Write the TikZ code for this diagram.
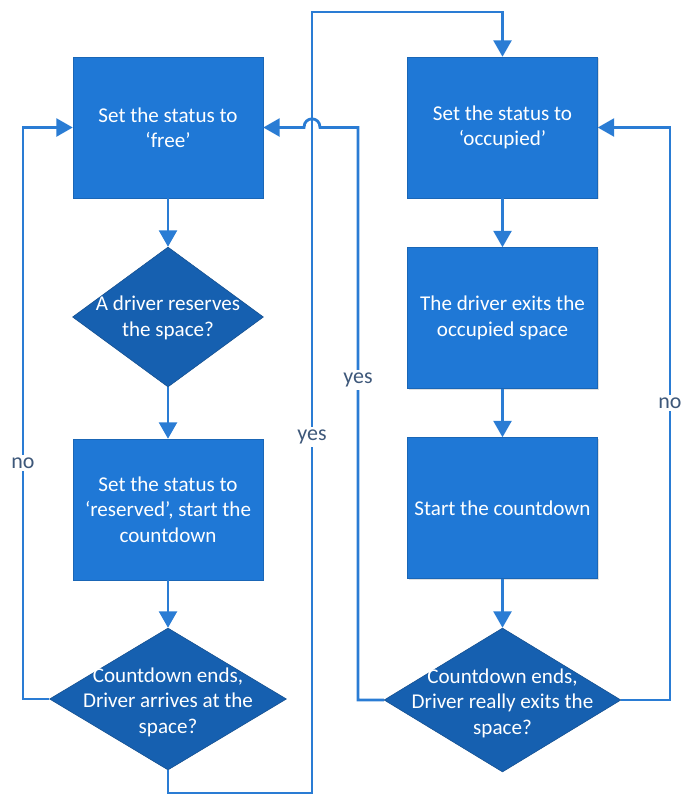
\documentclass[tikz,border=0pt]{standalone}
\usepackage{fontspec}
\setmainfont{Carlito}
\usetikzlibrary{shapes.geometric,arrows.meta,shadows}
\definecolor{boxblue}{RGB}{31,120,214}
\definecolor{diamondblue}{RGB}{22,96,176}
\definecolor{lineblue}{RGB}{42,124,212}
\definecolor{labelgray}{RGB}{62,88,122}
\begin{document}
\begin{tikzpicture}
[x=0.02cm,y=-0.02cm,
  boxdecorate/.style={shape=rectangle,fill=boxblue,draw=boxblue!85!black,line width=0.3pt,%
    minimum width=3.8cm,minimum height=2.82cm,align=center,text=white,%
    font=\fontsize{12}{14.5}\selectfont,%
    drop shadow={shadow xshift=0.8pt,shadow yshift=-0.8pt,opacity=0.25}},%
  diamonddecorate/.style={shape=diamond,fill=diamondblue,draw=diamondblue!80!black,%
    line width=0.3pt,inner sep=0pt},%
  difftext/.style={align=center,text=white,font=\fontsize{12}{14.5}\selectfont},%
  linedecorate/.style={-{Triangle[width=0.36cm,length=0.33cm]},draw=lineblue,line width=1.6pt},%
  labeldecorate/.style={fill=white,text=labelgray,inner sep=1.5pt,%
    font=\fontsize{12.5}{14.5}\selectfont}]
\useasboundingbox (0,0) rectangle (684,795);
%%% left column
% nodes or vertices
\node (b1) at (168,127.5) [boxdecorate] {Set the status to\\‘free’};
\node (d1) at (168,317) [diamonddecorate,minimum width=3.82cm,minimum height=2.8cm] {};
\node (t1) at (168,318) [difftext] {A driver reserves\\the space?};
\node (b2) at (168,509.5) [boxdecorate] {Set the status to\\‘reserved’, start the\\countdown};
\node (d2) at (168,699) [diamonddecorate,minimum width=4.74cm,minimum height=2.84cm] {};
\node (t2) at (168,702) [difftext] {Countdown ends,\\Driver arrives at the\\space?};
%%% right column
% nodes or vertices
\node (b3) at (502.5,127.5) [boxdecorate] {Set the status to\\‘occupied’};
\node (b4) at (502.5,318) [boxdecorate] {The driver exits the\\occupied space};
\node (b5) at (502.5,508) [boxdecorate] {Start the countdown};
\node (d4) at (502.5,700) [diamonddecorate,minimum width=4.74cm,minimum height=2.88cm] {};
\node (t4) at (502.5,703) [difftext] {Countdown ends,\\Driver really exits the\\space?};
% bends
\coordinate (nol) at (23,127.5);
\coordinate (ylb) at (312,793);
\coordinate (ylt) at (502.5,12);
\coordinate (yr) at (358,127.5);
\coordinate (nor) at (670,127.5);
% edges or lines
\path
(b1) edge[linedecorate] (d1)
(d1) edge[linedecorate] (b2)
(b2) edge[linedecorate] (d2)
(b3) edge[linedecorate] (b4)
(b4) edge[linedecorate] (b5)
(b5) edge[linedecorate] (d4);
%
%%% loops back
\draw[linedecorate] (d2.west) -| (nol) -- (b1.west);
\draw[linedecorate] (d2.south) |- (ylb) |- (ylt) -- (b3.north);
\draw[linedecorate] (d4.west) -| (yr) -- (320,127.5)
  .. controls (320,116) and (304,116) .. (304,127.5) -- (b1.east);
\draw[linedecorate] (d4.east) -| (nor) -- (b3.east);
% labels
\node (nolabel) at (23,463) [labeldecorate] {no};
\node (ylabel) at (312,437) [labeldecorate] {yes};
\node (yrlabel) at (358,380) [labeldecorate] {yes};
\node (norlabel) at (670,403) [labeldecorate] {no};
\end{tikzpicture}
\end{document}
